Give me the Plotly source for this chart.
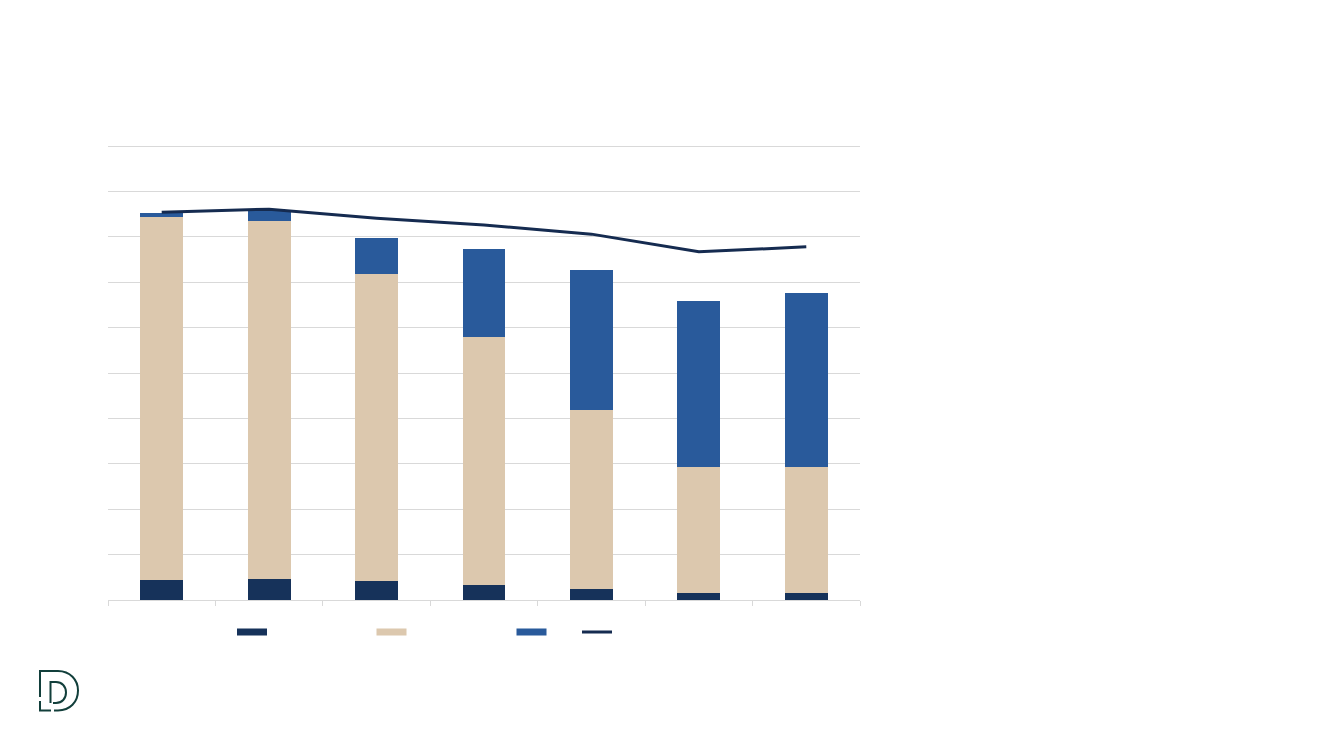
import plotly.graph_objects as go

# ---- data (axis 0-100, gridline every 10) ----
categories = ["1", "2", "3", "4", "5", "6", "7"]
series_dark = [4.4, 4.6, 4.2, 3.3, 2.4, 1.6, 1.6]
series_beige = [79.9, 78.9, 67.6, 54.6, 39.4, 27.7, 27.7]
series_blue = [1.0, 2.1, 8.0, 19.4, 30.8, 36.6, 38.4]
series_line = [85.4, 86.1, 84.1, 82.6, 80.6, 76.7, 77.8]

C_DARK = "#16325A"
C_BEIGE = "#DCC8AE"
C_BLUE = "#295A9B"
C_LINE = "#152B50"
C_GRID = "#D9D9D9"

OFF = 8                      # page body margin
W, H = 1333 - OFF, 750 - OFF  # figure size so it fits the window
YMAX = 102
UNIT = 4.54                  # pixels per y unit
PL, PR, PB = 108, 860, 600   # plot area in page pixels
PT = PB - UNIT * YMAX


def px(x):
    return (x - PL) / (PR - PL)


def py(y):
    return (PB - y) / (PB - PT)


fig = go.Figure()
bar_series = [(series_dark, C_DARK, "legend"), (series_beige, C_BEIGE, "legend2"),
              (series_blue, C_BLUE, "legend3")]
for vals, col, lg in bar_series:
    fig.add_trace(go.Bar(x=categories, y=vals, marker=dict(color=col, line=dict(width=0)),
                         name="", showlegend=False))
    # legend swatch (flat rectangle like the reference legend)
    fig.add_trace(go.Scatter(x=[None], y=[None], mode="lines", line=dict(color=col, width=7),
                             name="", legend=lg, showlegend=True, hoverinfo="skip"))

fig.add_trace(go.Scatter(x=categories, y=series_line, mode="lines",
                         line=dict(color=C_LINE, width=3), name="", legend="legend4"))


def leg(xpix):
    return dict(orientation="h", x=px(xpix), xanchor="left", y=py(632), yanchor="middle",
                bgcolor="rgba(0,0,0,0)", borderwidth=0, font=dict(size=12, color="#595959"),
                traceorder="normal")


# logo (decorative "D" mark)
def path(cmds):
    out = []
    for c in cmds:
        if isinstance(c, str):
            out.append(c)
        else:
            out.append("%.5f,%.5f" % (px(c[0]), py(c[1])))
    return " ".join(out)


LOGO = "#123F3B"
logo_outer = path(["M", (40, 697), "L", (40, 671), "L", (58, 671),
                   "C", (70, 671), (78, 680), (78, 690.5),
                   "C", (78, 702), (70, 710.5), (58, 710.5), "L", (54, 710.5)])
logo_corner = path(["M", (40, 701), "L", (40, 710.5), "L", (51, 710.5)])
logo_inner = path(["M", (50.5, 703), "L", (50.5, 682), "L", (56, 682),
                   "C", (62, 682), (66, 686.5), (66, 692.5),
                   "C", (66, 698.5), (62, 703), (56, 703), "L", (53, 703)])

shapes = [dict(type="path", path=p, xref="paper", yref="paper",
               line=dict(color=LOGO, width=2), fillcolor="rgba(0,0,0,0)")
          for p in (logo_outer, logo_corner, logo_inner)]

fig.update_layout(
    width=W, height=H,
    margin=dict(l=PL - OFF, r=(OFF + W) - PR, t=PT - OFF, b=(OFF + H) - PB, pad=0),
    paper_bgcolor="white", plot_bgcolor="white",
    barmode="stack", bargap=0.6,
    showlegend=True,
    legend=leg(232), legend2=leg(371.5), legend3=leg(511.5), legend4=leg(577),
    xaxis=dict(showticklabels=False, showgrid=False, showline=True, linecolor=C_GRID, linewidth=1,
               ticks="outside", tickson="boundaries", ticklen=5, tickcolor=C_GRID, zeroline=False),
    yaxis=dict(range=[0, YMAX], tickmode="linear", tick0=0, dtick=10, showticklabels=False,
               showgrid=True, gridcolor=C_GRID, gridwidth=1, zeroline=False, showline=False, ticks=""),
    shapes=shapes,
    font=dict(family="Liberation Sans, Arial, sans-serif"),
)

fig.write_html("out.html")
